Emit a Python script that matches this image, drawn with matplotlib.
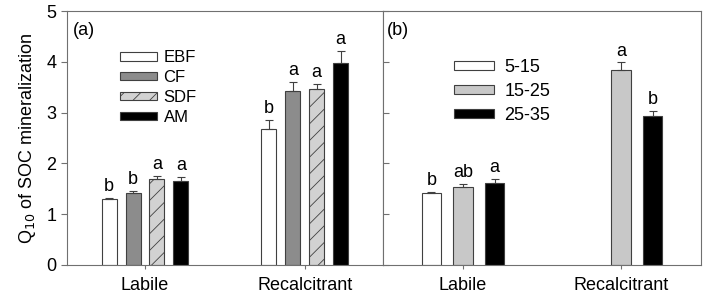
import numpy as np
import matplotlib
matplotlib.use("Agg")
import matplotlib.pyplot as plt

plt.rcParams['font.family'] = ['Liberation Sans', 'DejaVu Sans']
plt.rcParams['hatch.linewidth'] = 0.6

# data
categories = ["Labile", "Recalcitrant"]

forest_types = ["EBF", "CF", "SDF", "AM"]
q10_forest = {
    "EBF": [1.30, 2.68],
    "CF": [1.41, 3.42],
    "SDF": [1.70, 3.47],
    "AM": [1.66, 3.98],
}
err_forest = {
    "EBF": [0.02, 0.17],
    "CF": [0.05, 0.18],
    "SDF": [0.05, 0.09],
    "AM": [0.07, 0.23],
}
letters_forest = {
    "EBF": ["b", "b"],
    "CF": ["b", "a"],
    "SDF": ["a", "a"],
    "AM": ["a", "a"],
}

temp_ranges = ["5-15", "15-25", "25-35"]
q10_temp = {
    "5-15": [1.41, np.nan],
    "15-25": [1.54, 3.84],
    "25-35": [1.61, 2.93],
}
err_temp = {
    "5-15": [0.03, np.nan],
    "15-25": [0.06, 0.15],
    "25-35": [0.08, 0.11],
}
letters_temp = {
    "5-15": ["b", ""],
    "15-25": ["ab", "a"],
    "25-35": ["a", "b"],
}

# styles
forest_style = {
    "EBF": dict(color="white", hatch=None),
    "CF": dict(color="#8c8c8c", hatch=None),
    "SDF": dict(color="#d2d2d2", hatch="//"),
    "AM": dict(color="black", hatch=None),
}
temp_colors = {"5-15": "white", "15-25": "#c8c8c8", "25-35": "black"}
edge = "#404040"
spine_col = "#707070"
fs = 13

fig = plt.figure(figsize=(7.06, 3.0), dpi=100)
ax1 = fig.add_axes([0.0945, 0.1167, 0.448, 0.8463])
ax2 = fig.add_axes([0.5425, 0.1167, 0.4505, 0.8463])

x = np.arange(len(categories))


def draw_bar(ax, xpos, vals, errs, letters, w, fc, hatch):
    vals = np.array(vals, dtype=float)
    errs = np.array(errs, dtype=float)
    ok = ~np.isnan(vals)
    ax.bar(xpos[ok], vals[ok], w, facecolor=fc, edgecolor=edge,
           linewidth=0.8, hatch=hatch, zorder=2)
    ax.errorbar(xpos[ok], vals[ok], yerr=[np.zeros(ok.sum()), errs[ok]],
                fmt="none", ecolor=edge, elinewidth=0.8, capsize=3,
                capthick=0.8, zorder=3)
    for xi, v, e, l, k in zip(xpos, vals, errs, letters, ok):
        if k and l:
            ax.annotate(l, (xi, v + e), xytext=(0, 2), textcoords="offset points",
                        ha="center", va="bottom", fontsize=fs)


# panel a
w1 = 0.094
offs1 = [-0.225, -0.075, 0.075, 0.225]
for name, o in zip(forest_types, offs1):
    draw_bar(ax1, x + o, q10_forest[name], err_forest[name], letters_forest[name],
             w1, forest_style[name]["color"], forest_style[name]["hatch"])

# panel b
w2 = 0.123
offs2 = [-0.2, 0.0, 0.2]
for name, o in zip(temp_ranges, offs2):
    draw_bar(ax2, x + o, q10_temp[name], err_temp[name], letters_temp[name],
             w2, temp_colors[name], None)

for ax in (ax1, ax2):
    ax.set_ylim(0, 5)
    ax.set_xticks(x)
    ax.set_xticklabels(categories, fontsize=fs)
    for s in ax.spines.values():
        s.set_color(spine_col)
        s.set_linewidth(0.8)
    ax.tick_params(axis="x", direction="out", length=3, color=spine_col, pad=6)

ax1.set_xlim(-0.49, 1.49)
ax2.set_xlim(-0.506, 1.506)

ax1.set_yticks(range(6))
ax1.tick_params(axis="y", direction="out", length=4, color=spine_col, labelsize=fs)
ax2.set_yticks(range(6))
ax2.tick_params(axis="y", direction="in", length=4, color=spine_col, labelleft=False)

ax1.set_ylabel("Q$_{10}$ of SOC mineralization", fontsize=fs, labelpad=6)

ax1.text(0.02, 0.957, "(a)", transform=ax1.transAxes, fontsize=fs, va="top", ha="left")
ax2.text(0.012, 0.957, "(b)", transform=ax2.transAxes, fontsize=fs, va="top", ha="left")

# legends
h1 = [plt.Rectangle((0, 0), 1, 1, facecolor=forest_style[n]["color"], edgecolor=edge,
                    linewidth=0.8, hatch=forest_style[n]["hatch"]) for n in forest_types]
ax1.legend(h1, forest_types, loc="upper left", bbox_to_anchor=(0.169, 0.845),
           frameon=False, fontsize=12, handlelength=2.2, handleheight=0.38,
           handletextpad=0.4, labelspacing=0.29, borderpad=0, borderaxespad=0)

h2 = [plt.Rectangle((0, 0), 1, 1, facecolor=temp_colors[n], edgecolor=edge,
                    linewidth=0.8) for n in temp_ranges]
ax2.legend(h2, temp_ranges, loc="upper left", bbox_to_anchor=(0.223, 0.81),
           frameon=False, fontsize=fs, handlelength=2.2, handleheight=0.4,
           handletextpad=0.6, labelspacing=0.37, borderpad=0, borderaxespad=0)

fig.savefig("out.png", dpi=100)
